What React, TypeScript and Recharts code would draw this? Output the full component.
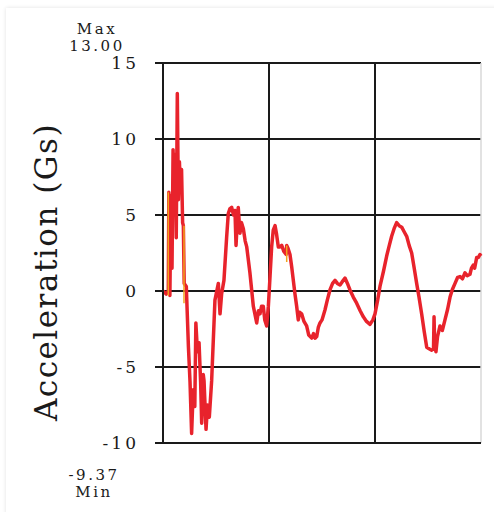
import { CartesianGrid, Line, LineChart, ReferenceLine, XAxis, YAxis } from "recharts";

// time in % of window (3 grid columns of 100), acceleration in Gs
const timePts = [
  0, 3, 5, 5.5, 6.5, 7.5, 8.5, 9.5, 10.5, 11.5, 12.5, 13.5, 14.5, 15.5, 16.5, 17.5, 18.5, 19.2, 20, 22,
  24, 25.5, 27, 28.5, 30, 31, 32.5, 34, 35.5, 36.5, 38, 38.7, 40.6, 42, 43.7, 45.9, 49, 52.2, 53.8, 55.3,
  57.5, 60, 61.6, 63, 64.8, 66.5, 67.9, 68.9, 70, 71, 72.6, 74, 75.8, 77.5, 79, 82, 85.2, 88.4, 90, 91.5,
  93, 94.6, 96, 97.8, 99.4, 101, 102.5, 104, 105.7, 107, 108.8, 110.4, 112, 114, 116.2, 116.7, 118, 119.8, 121.4, 124.5,
  126.1, 127.6, 129, 130.8, 133, 135.5, 137.5, 140.3, 142, 143.5, 145, 146.5, 148.1, 150, 152.8, 155, 157.5, 160, 162.3, 164.5,
  167, 169, 171.7, 174, 176.4, 179.5, 182.7, 186, 189, 192, 195.3, 198, 200, 202.5, 204.7, 208, 211, 213.5, 215.7, 218,
  220.4, 222.8, 225.2, 227.5, 229.9, 232.2, 234.6, 237, 239.3, 241.5, 244, 246.5, 248.8, 251, 253.5, 255.2, 255.7, 256.3, 257.5, 259,
  261.3, 263.5, 266, 268.5, 270.8, 273, 275.5, 278, 280.2, 282.5, 284.9, 287, 289.6, 291, 292.7, 294, 295.9, 297.5, 299, 300,
];
const accelGs = [
  0, -0.2, 0, 6.5, -0.3, 6.3, 1.5, 9.3, 5, 9, 3.5, 13.0, 6, 8.5, 6.5, 8, 4.5, 4.3, 0.5, 0.3,
  -3.7, -6, -9.37, -6.5, -7.6, -2.1, -4, -3.4, -6, -8.7, -5.5, -5.9, -9.1, -7.5, -8.3, -5.9, -0.6, 0.5, -1.5, -0.2,
  0.7, 3.5, 5.1, 5.4, 5.5, 5.0, 5.3, 3.0, 4.5, 5.5, 3.8, 4.5, 4.1, 3.3, 2.9, 1.2, -1.0, -2.1, -1.3, -1.5,
  -1.0, -1.0, -1.9, -2.3, -1.0, 1.0, 2.9, 4.0, 4.3, 3.8, 2.9, 2.9, 3.0, 2.6, 2.4, 3.0, 2.8, 2.4, 1.6, -0.2,
  -1.0, -1.9, -1.4, -1.5, -2.0, -2.3, -2.9, -3.1, -2.8, -3.1, -3.0, -2.4, -2.1, -1.9, -1.25, -0.6, 0.07, 0.5, 0.7, 0.5,
  0.4, 0.6, 0.85, 0.5, 0.07, -0.4, -0.8, -1.3, -1.7, -2.0, -2.2, -1.9, -1.5, -0.6, 0.3, 1.3, 2.3, 3.0, 3.6, 4.1,
  4.5, 4.3, 4.2, 3.9, 3.6, 3.0, 2.5, 1.5, 0.5, -0.4, -1.5, -2.7, -3.7, -3.8, -3.9, -3.8, -1.7, -3.5, -4.0, -3.0,
  -2.3, -2.6, -1.9, -1.2, -0.4, 0.1, 0.5, 0.9, 0.95, 0.8, 1.2, 1.0, 1.1, 1.5, 1.7, 1.5, 2.2, 2.2, 2.4, 2.3,
];

// short orange marks (null breaks the line)
const orangeT = [5, 5, 6, 19.8, 19.8, 20.5, 116.7, 116.7];
const orangeG = [-0.3, 6.5, null, 4.3, -0.8, null, 3.0, 1.9];

const yTicks = [-10, -5, 0, 5, 10, 15];
const xTicks = [0, 100, 200, 300];

const trace = timePts.map((t, i) => ({ t, g: accelGs[i] }));
const marks = orangeT.map((t, i) => ({ t, g: orangeG[i] }));

const serif = "'DejaVu Serif', 'Liberation Serif', serif";

function YTick({ x, y, payload }: any) {
  return (
    <text
      x={x}
      y={y}
      dy={6}
      textAnchor="end"
      fontFamily={serif}
      fontSize={17}
      letterSpacing={3}
      fill="#1a1a1a"
    >
      {payload.value}
    </text>
  );
}

export default function App() {
  return (
    <div
      style={{
        position: "absolute",
        left: 0,
        top: 0,
        width: 494,
        height: 512,
        background: "#fff",
        overflow: "hidden",
      }}
    >
      <div
        style={{
          position: "absolute",
          left: 6,
          top: 8,
          width: 500,
          height: 520,
          boxShadow: "0 0 4px rgba(0,0,0,0.12)",
        }}
      />
      <LineChart
        width={494}
        height={512}
        data={trace}
        margin={{ top: 63, right: 13, bottom: 64, left: 103 }}
        style={{ position: "absolute", left: 0, top: 0 }}
      >
        <CartesianGrid vertical={false} stroke="#1a1a1a" strokeWidth={2} />
        <ReferenceLine x={100} stroke="#1a1a1a" strokeWidth={2} />
        <ReferenceLine x={200} stroke="#1a1a1a" strokeWidth={2} />
        <ReferenceLine x={300} stroke="#d8d8d8" strokeWidth={1.5} />
        <XAxis
          dataKey="t"
          type="number"
          domain={[0, 300]}
          ticks={xTicks}
          tick={false}
          tickSize={5}
          height={5}
          axisLine={{ stroke: "#1a1a1a", strokeWidth: 2 }}
          tickLine={{ stroke: "#1a1a1a", strokeWidth: 2 }}
        />
        <YAxis
          type="number"
          domain={[-10, 15]}
          ticks={yTicks}
          width={60}
          tickSize={8}
          tickMargin={16}
          tick={<YTick />}
          axisLine={{ stroke: "#1a1a1a", strokeWidth: 2 }}
          tickLine={{ stroke: "#1a1a1a", strokeWidth: 2 }}
          allowDataOverflow
        />
        <Line
          dataKey="g"
          type="linear"
          stroke="#e8232c"
          strokeWidth={3.5}
          strokeLinejoin="round"
          dot={false}
          isAnimationActive={false}
        />
        <Line
          data={marks}
          dataKey="g"
          type="linear"
          stroke="#f2a51f"
          strokeWidth={1.5}
          dot={false}
          connectNulls={false}
          isAnimationActive={false}
        />
      </LineChart>
      <div
        style={{
          position: "absolute",
          left: 47,
          width: 100,
          top: 21,
          textAlign: "center",
          fontFamily: serif,
          fontSize: 15,
          lineHeight: "17px",
          color: "#1a1a1a",
          letterSpacing: 2.5,
        }}
      >
        Max
        <br />
        13.00
      </div>
      <div
        style={{
          position: "absolute",
          left: 44,
          width: 100,
          top: 467,
          textAlign: "center",
          fontFamily: serif,
          fontSize: 15,
          lineHeight: "17px",
          color: "#1a1a1a",
          letterSpacing: 2.5,
        }}
      >
        -9.37
        <br />
        Min
      </div>
      <div
        style={{
          position: "absolute",
          left: 46,
          top: 272,
          transform: "translate(-50%, -50%) rotate(-90deg)",
          whiteSpace: "nowrap",
          fontFamily: serif,
          fontSize: 31,
          letterSpacing: 1.5,
          color: "#1a1a1a",
        }}
      >
        Acceleration (Gs)
      </div>
    </div>
  );
}
